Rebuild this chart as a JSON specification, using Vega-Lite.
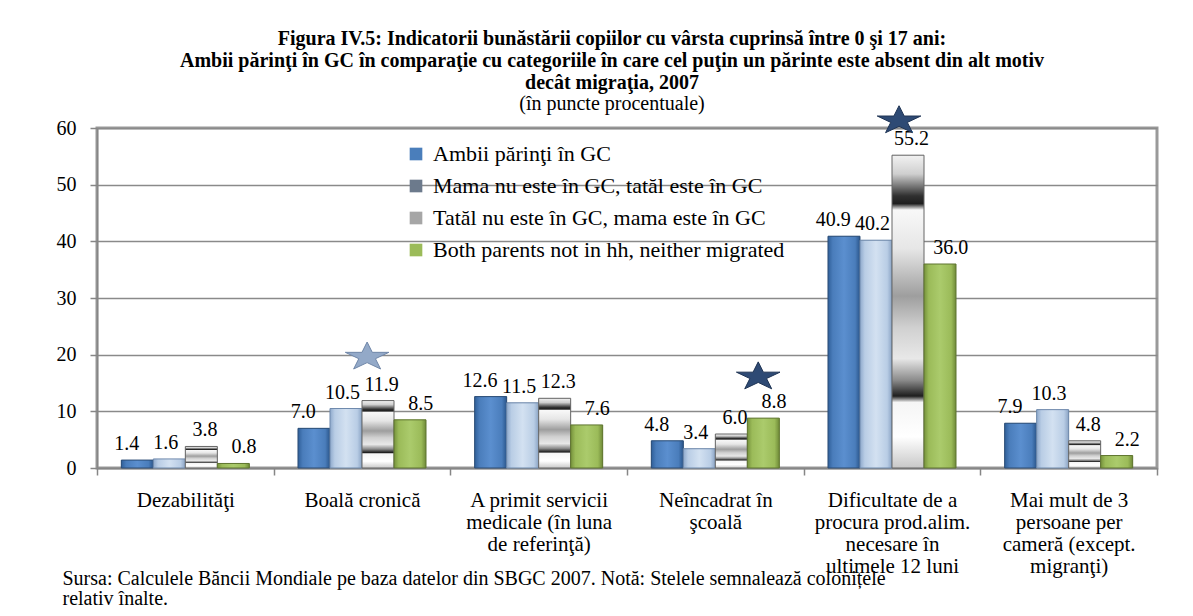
{
  "$schema": "https://vega.github.io/schema/vega-lite/v6.json",
  "width": 1060,
  "height": 340,
  "autosize": "none",
  "padding": {"left": 97, "top": 128, "right": 36, "bottom": 148},
  "background": "white",
  "config": {"font": "Liberation Serif", "view": {"stroke": "#9a9a9a", "strokeWidth": 3}},
  "title": {
    "text": ["Figura IV.5: Indicatorii bunăstării copiilor cu vârsta cuprinsă între 0 şi 17 ani:", "Ambii părinţi în GC în comparaţie cu categoriile în care cel puţin un  părinte este absent din alt motiv", "decât migraţia, 2007"],
    "subtitle": "(în puncte procentuale)",
    "anchor": "middle",
    "font": "Liberation Serif",
    "fontSize": 20,
    "fontWeight": "bold",
    "lineHeight": 22,
    "color": "black",
    "subtitleFont": "Liberation Serif",
    "subtitleFontSize": 20,
    "subtitleLineHeight": 21,
    "subtitleColor": "black",
    "subtitlePadding": 1,
    "offset": -10,
    "dx": -15
  },
  "datasets": {
    "bars": [
      {"cat": "Dezabilităţi", "series": "Ambii părinţi în GC", "value": 1.4},
      {"cat": "Dezabilităţi", "series": "Mama nu este în GC, tatăl este în GC", "value": 1.6},
      {"cat": "Dezabilităţi", "series": "Tatăl nu este în GC, mama este în GC", "value": 3.8},
      {"cat": "Dezabilităţi", "series": "Both parents not in hh, neither migrated", "value": 0.8},
      {"cat": "Boală cronică", "series": "Ambii părinţi în GC", "value": 7.0},
      {"cat": "Boală cronică", "series": "Mama nu este în GC, tatăl este în GC", "value": 10.5},
      {"cat": "Boală cronică", "series": "Tatăl nu este în GC, mama este în GC", "value": 11.9},
      {"cat": "Boală cronică", "series": "Both parents not in hh, neither migrated", "value": 8.5},
      {"cat": "A primit servicii|medicale (în luna|de referinţă)", "series": "Ambii părinţi în GC", "value": 12.6},
      {"cat": "A primit servicii|medicale (în luna|de referinţă)", "series": "Mama nu este în GC, tatăl este în GC", "value": 11.5},
      {"cat": "A primit servicii|medicale (în luna|de referinţă)", "series": "Tatăl nu este în GC, mama este în GC", "value": 12.3},
      {"cat": "A primit servicii|medicale (în luna|de referinţă)", "series": "Both parents not in hh, neither migrated", "value": 7.6},
      {"cat": "Neîncadrat în|şcoală", "series": "Ambii părinţi în GC", "value": 4.8},
      {"cat": "Neîncadrat în|şcoală", "series": "Mama nu este în GC, tatăl este în GC", "value": 3.4},
      {"cat": "Neîncadrat în|şcoală", "series": "Tatăl nu este în GC, mama este în GC", "value": 6.0},
      {"cat": "Neîncadrat în|şcoală", "series": "Both parents not in hh, neither migrated", "value": 8.8},
      {"cat": "Dificultate de a|procura prod.alim.|necesare în|ultimele 12 luni", "series": "Ambii părinţi în GC", "value": 40.9},
      {"cat": "Dificultate de a|procura prod.alim.|necesare în|ultimele 12 luni", "series": "Mama nu este în GC, tatăl este în GC", "value": 40.2},
      {"cat": "Dificultate de a|procura prod.alim.|necesare în|ultimele 12 luni", "series": "Tatăl nu este în GC, mama este în GC", "value": 55.2},
      {"cat": "Dificultate de a|procura prod.alim.|necesare în|ultimele 12 luni", "series": "Both parents not in hh, neither migrated", "value": 36.0},
      {"cat": "Mai mult de 3|persoane per|cameră (except.|migranţi)", "series": "Ambii părinţi în GC", "value": 7.9},
      {"cat": "Mai mult de 3|persoane per|cameră (except.|migranţi)", "series": "Mama nu este în GC, tatăl este în GC", "value": 10.3},
      {"cat": "Mai mult de 3|persoane per|cameră (except.|migranţi)", "series": "Tatăl nu este în GC, mama este în GC", "value": 4.8},
      {"cat": "Mai mult de 3|persoane per|cameră (except.|migranţi)", "series": "Both parents not in hh, neither migrated", "value": 2.2}
    ],
    "stars": [
      {"cat": "Boală cronică", "pos": 2.16, "value": 19.6, "tone": "light"},
      {"cat": "Neîncadrat în|şcoală", "pos": 3.34, "value": 16.1, "tone": "dark"},
      {"cat": "Dificultate de a|procura prod.alim.|necesare în|ultimele 12 luni", "pos": 2.22, "value": 61.3, "tone": "dark"}
    ]
  },
  "data": {"name": "bars"},
  "encoding": {
    "x": {
      "field": "cat",
      "type": "nominal",
      "sort": null,
      "scale": {
        "domain": ["Dezabilităţi", "Boală cronică", "A primit servicii|medicale (în luna|de referinţă)", "Neîncadrat în|şcoală", "Dificultate de a|procura prod.alim.|necesare în|ultimele 12 luni", "Mai mult de 3|persoane per|cameră (except.|migranţi)"],
        "paddingInner": 0,
        "paddingOuter": 0
      },
      "axis": {
        "title": ["Sursa: Calculele Băncii Mondiale pe baza datelor din SBGC 2007. Notă: Stelele semnalează colonițele", "relativ înalte."],
        "titleX": -35,
        "titleY": 100,
        "titleAlign": "left",
        "titleAnchor": "start",
        "titleBaseline": "top",
        "titleFont": "Liberation Serif",
        "titleFontWeight": "normal",
        "titleFontSize": 20,
        "titleLineHeight": 20,
        "titleColor": "black",
        "labelAngle": 0,
        "labelFont": "Liberation Serif",
        "labelFontSize": 21,
        "labelLineHeight": 22,
        "labelColor": "black",
        "labelBaseline": "top",
        "labelPadding": 14,
        "labelLimit": 0,
        "labelExpr": "split(datum.label, '|')",
        "tickBand": "extent",
        "tickSize": 7,
        "tickColor": "#868686",
        "tickWidth": 1.5,
        "domainColor": "#868686",
        "domainWidth": 1.5
      }
    },
    "y": {
      "field": "value",
      "type": "quantitative",
      "scale": {"domain": [0, 60], "nice": false},
      "axis": {
        "title": null,
        "values": [0, 10, 20, 30, 40, 50, 60],
        "labelFont": "Liberation Serif",
        "labelFontSize": 20,
        "labelColor": "black",
        "labelPadding": 14,
        "tickSize": 7,
        "tickColor": "#868686",
        "tickWidth": 1.5,
        "domainColor": "#868686",
        "domainWidth": 1.5,
        "gridColor": "#8a8a8a",
        "gridWidth": 1.5
      }
    }
  },
  "layer": [
    {
      "mark": {"type": "bar"},
      "encoding": {
        "xOffset": {"field": "series", "type": "nominal", "sort": null, "scale": {"domain": ["Ambii părinţi în GC", "Mama nu este în GC, tatăl este în GC", "Tatăl nu este în GC, mama este în GC", "Both parents not in hh, neither migrated"], "paddingOuter": 0.76, "paddingInner": 0}},
        "color": {
          "field": "series",
          "type": "nominal",
          "scale": {"domain": ["Ambii părinţi în GC", "Mama nu este în GC, tatăl este în GC", "Tatăl nu este în GC, mama este în GC", "Both parents not in hh, neither migrated"], "range": ["#4a7ebb", "#6c7a8c", "#a6a6a6", "#9bbb59"]},
          "legend": {
            "title": null,
            "orient": "none",
            "legendX": 308,
            "legendY": 15,
            "padding": 0,
            "symbolType": "square",
            "symbolSize": 160,
            "symbolStrokeWidth": 0,
            "labelFont": "Liberation Serif",
            "labelFontSize": 22,
            "labelColor": "black",
            "labelLimit": 0,
            "labelOffset": 6,
            "rowPadding": 10
          }
        }
      }
    },
    {
      "transform": [{"filter": "datum.series === 'Ambii părinţi în GC'"}],
      "mark": {"type": "bar", "stroke": "#2c4d75", "strokeWidth": 1, "fill": {"gradient": "linear", "x1": 0, "y1": 0, "x2": 1, "y2": 0, "stops": [{"offset": 0, "color": "#2f5f99"}, {"offset": 0.15, "color": "#4a7dbb"}, {"offset": 0.5, "color": "#5b8fcf"}, {"offset": 0.85, "color": "#4a7dbb"}, {"offset": 1, "color": "#2a558a"}]}},
      "encoding": {
        "xOffset": {"field": "series", "type": "nominal", "sort": null, "scale": {"domain": ["Ambii părinţi în GC", "Mama nu este în GC, tatăl este în GC", "Tatăl nu este în GC, mama este în GC", "Both parents not in hh, neither migrated"], "paddingOuter": 0.76, "paddingInner": 0}}
      }
    },
    {
      "transform": [{"filter": "datum.series === 'Mama nu este în GC, tatăl este în GC'"}],
      "mark": {"type": "bar", "stroke": "#6f8aad", "strokeWidth": 1, "fill": {"gradient": "linear", "x1": 0, "y1": 0, "x2": 1, "y2": 0, "stops": [{"offset": 0, "color": "#8ea9cc"}, {"offset": 0.15, "color": "#b9cde5"}, {"offset": 0.5, "color": "#d3e1f1"}, {"offset": 0.85, "color": "#b9cde5"}, {"offset": 1, "color": "#8aa3c4"}]}},
      "encoding": {
        "xOffset": {"field": "series", "type": "nominal", "sort": null, "scale": {"domain": ["Ambii părinţi în GC", "Mama nu este în GC, tatăl este în GC", "Tatăl nu este în GC, mama este în GC", "Both parents not in hh, neither migrated"], "paddingOuter": 0.76, "paddingInner": 0}}
      }
    },
    {
      "transform": [{"filter": "datum.series === 'Tatăl nu este în GC, mama este în GC'"}],
      "mark": {"type": "bar", "stroke": "#666666", "strokeWidth": 1, "fill": {"gradient": "linear", "x1": 0, "y1": 0, "x2": 0, "y2": 1, "stops": [{"offset": 0, "color": "#f2f2f2"}, {"offset": 0.06, "color": "#cfcfcf"}, {"offset": 0.13, "color": "#303030"}, {"offset": 0.155, "color": "#1e1e1e"}, {"offset": 0.175, "color": "#f8f8f8"}, {"offset": 0.3, "color": "#e6e6e6"}, {"offset": 0.45, "color": "#9e9e9e"}, {"offset": 0.55, "color": "#d0d0d0"}, {"offset": 0.65, "color": "#e8e8e8"}, {"offset": 0.72, "color": "#8a8a8a"}, {"offset": 0.77, "color": "#1e1e1e"}, {"offset": 0.79, "color": "#f5f5f5"}, {"offset": 0.9, "color": "#ffffff"}, {"offset": 1, "color": "#c8c8c8"}]}},
      "encoding": {
        "xOffset": {"field": "series", "type": "nominal", "sort": null, "scale": {"domain": ["Ambii părinţi în GC", "Mama nu este în GC, tatăl este în GC", "Tatăl nu este în GC, mama este în GC", "Both parents not in hh, neither migrated"], "paddingOuter": 0.76, "paddingInner": 0}}
      }
    },
    {
      "transform": [{"filter": "datum.series === 'Both parents not in hh, neither migrated'"}],
      "mark": {"type": "bar", "stroke": "#5f7530", "strokeWidth": 1, "fill": {"gradient": "linear", "x1": 0, "y1": 0, "x2": 1, "y2": 0, "stops": [{"offset": 0, "color": "#76923c"}, {"offset": 0.15, "color": "#9bbb59"}, {"offset": 0.5, "color": "#abcb6c"}, {"offset": 0.85, "color": "#9bbb59"}, {"offset": 1, "color": "#6f8a38"}]}},
      "encoding": {
        "xOffset": {"field": "series", "type": "nominal", "sort": null, "scale": {"domain": ["Ambii părinţi în GC", "Mama nu este în GC, tatăl este în GC", "Tatăl nu este în GC, mama este în GC", "Both parents not in hh, neither migrated"], "paddingOuter": 0.76, "paddingInner": 0}}
      }
    },
    {
      "mark": {"type": "text", "baseline": "alphabetic", "dy": -10, "font": "Liberation Serif", "fontSize": 20, "color": "black"},
      "encoding": {
        "xOffset": {"field": "series", "type": "nominal", "sort": null, "scale": {"domain": ["Ambii părinţi în GC", "Mama nu este în GC, tatăl este în GC", "Tatăl nu este în GC, mama este în GC", "Both parents not in hh, neither migrated"], "paddingOuter": 0.76, "paddingInner": 0}},
        "text": {"field": "value", "type": "quantitative", "format": ".1f"}
      }
    },
    {
      "data": {"name": "stars"},
      "transform": [{"filter": "datum.tone === 'light'"}],
      "mark": {"type": "point", "shape": "M0,-0.65 L0.225,-0.201 L0.951,-0.201 L0.363,0.077 L0.588,0.526 L0,0.248 L-0.588,0.526 L-0.363,0.077 L-0.951,-0.201 L-0.225,-0.201 Z", "filled": true, "size": 2100, "fill": "#93a9c8", "stroke": "#6f86a8", "strokeWidth": 1, "opacity": 1},
      "encoding": {
        "xOffset": {"field": "pos", "type": "quantitative", "scale": {"domain": [-0.76, 4.76], "range": [0, 176.6667]}}
      }
    },
    {
      "data": {"name": "stars"},
      "transform": [{"filter": "datum.tone === 'dark'"}],
      "mark": {"type": "point", "shape": "M0,-0.65 L0.225,-0.201 L0.951,-0.201 L0.363,0.077 L0.588,0.526 L0,0.248 L-0.588,0.526 L-0.363,0.077 L-0.951,-0.201 L-0.225,-0.201 Z", "filled": true, "size": 2100, "fill": "#2e4a74", "stroke": "#1f3454", "strokeWidth": 1, "opacity": 1},
      "encoding": {
        "xOffset": {"field": "pos", "type": "quantitative", "scale": {"domain": [-0.76, 4.76], "range": [0, 176.6667]}}
      }
    }
  ],
  "resolve": {"scale": {"xOffset": "independent"}}
}
